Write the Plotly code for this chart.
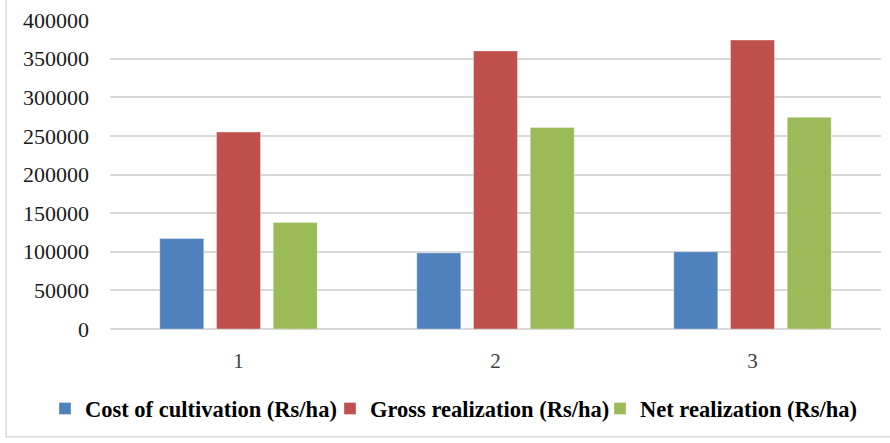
import plotly.graph_objects as go

categories = ["1", "2", "3"]
cost_of_cultivation = [117000, 98500, 100000]
gross_realization = [255000, 360000, 374000]
net_realization = [138000, 261000, 274000]
series_names = ["Cost of cultivation (Rs/ha)", "Gross realization (Rs/ha)", "Net realization (Rs/ha)"]
colors = ["#4F81BD", "#C0504D", "#9BBB59"]
y_ticks = [0, 50000, 100000, 150000, 200000, 250000, 300000, 350000, 400000]

W, H = 890, 443
L, R, T, B = 110, 9, 19.5, 114
pw, ph = W - L - R, H - T - B
SERIF = "Liberation Serif, Times New Roman, serif"

legend_ids = ["legend", "legend2", "legend3"]
legend_left_px = [45, 330, 600]

fig = go.Figure()
for name, vals, col, lid in zip(series_names, [cost_of_cultivation, gross_realization, net_realization], colors, legend_ids):
    fig.add_trace(go.Bar(x=categories, y=vals, name="<b>" + name + "</b>", legend=lid,
                         marker=dict(color=col, line=dict(color="rgba(255,255,255,0.35)", width=1))))

legend_y = -(409 - (H - B)) / ph
layout_legends = {}
for lid, px in zip(legend_ids, legend_left_px):
    layout_legends[lid] = dict(orientation="h", x=(px - L) / pw, xanchor="left", y=legend_y, yanchor="middle",
                               font=dict(family=SERIF, size=22.5, color="#000000"),
                               itemwidth=30, bgcolor="rgba(0,0,0,0)", borderwidth=0)

fig.update_layout(
    width=W, height=H,
    margin=dict(l=L, r=R, t=T, b=B),
    paper_bgcolor="white", plot_bgcolor="white",
    barmode="group", bargap=0.338, bargroupgap=0.224,
    font=dict(family=SERIF, size=21, color="#404040"),
    showlegend=True,
    xaxis=dict(type="category", showgrid=False, showline=False, ticks="", ticklabelstandoff=17,
               tickfont=dict(family=SERIF, size=21, color="#404040")),
    yaxis=dict(range=[0, 400000], tickvals=y_ticks, ticktext=[str(v) for v in y_ticks],
               showgrid=True, gridcolor="#D9D9D9", gridwidth=1.5, zeroline=True, zerolinecolor="#D9D9D9",
               zerolinewidth=1.5, showline=False, ticks="", ticklabelstandoff=20,
               tickfont=dict(family=SERIF, size=22, color="#1a1a1a")),
    **layout_legends,
)

fig.add_shape(type="rect", xref="paper", yref="paper",
              x0=(6 - L) / pw, x1=(W + 5 - L) / pw,
              y0=-(437 - (H - B)) / ph, y1=(ph + T + 5) / ph,
              line=dict(color="#D9D9D9", width=1.5), fillcolor="rgba(0,0,0,0)", layer="below")

fig.write_html("out.html", post_script="document.body.style.margin='0';",
               config={"displayModeBar": False})
